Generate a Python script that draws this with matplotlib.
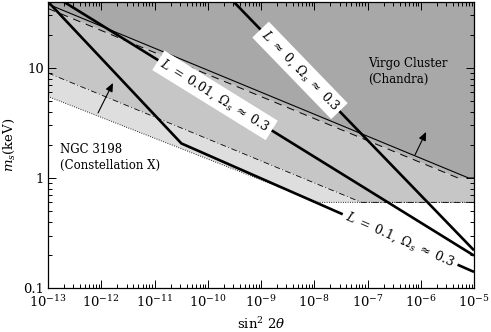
import numpy as np
import matplotlib
matplotlib.use("Agg")
import matplotlib.pyplot as plt
from matplotlib.ticker import LogLocator, NullFormatter, FixedLocator, FixedFormatter

plt.rcParams['font.family'] = ['DejaVu Serif']
plt.rcParams['mathtext.fontset'] = 'dejavuserif'

# ---------------- data ----------------
x_limits = [1e-13, 1e-5]
m_limits = [0.1, 40.0]

# Virgo cluster (Chandra) exclusion boundary (thin solid) and its lower edge (dashed)
virgo_x = [1e-13, 7.9e-6, 1e-5]
virgo_m = [38.0, 1.0, 1.0]
virgo_lo_x = [1e-13, 5.0e-6, 1e-5]
virgo_lo_m = [34.7, 1.0, 1.0]

# NGC 3198 (Constellation X) sensitivity (dash-dot) and lower edge (dotted)
conx_x = [1e-13, 7.7e-8, 1e-5]
conx_m = [9.0, 0.6, 0.6]
conx_lo_x = [1e-13, 1.2e-8, 1e-5]
conx_lo_m = [5.5, 0.6, 0.6]

# production curves
L0_x = [1e-10, 1e-5]
L0_m = [70.0, 0.22]
L001_x = [1e-13, 1e-5]
L001_m = [49.0, 0.197]
L01_x = [1e-13, 3.2e-11, 1e-5]
L01_m = [40.0, 2.06, 0.14]

curve_labels = [r'$L\;\approx\;\mathit{0},\;\Omega_s\;\approx\;\mathit{0.3}$',
                r'$L\;=\;\mathit{0.01},\;\Omega_s\;\approx\;\mathit{0.3}$',
                r'$L\;=\;\mathit{0.1},\;\Omega_s\;\approx\;\mathit{0.3}$']
curve_label_x = [5.4e-9, 1.37e-10, 4.1e-7]

x_ticks = [1e-13, 1e-12, 1e-11, 1e-10, 1e-9, 1e-8, 1e-7, 1e-6, 1e-5]
y_ticks = [0.1, 1, 10]
y_ticklabels = ['0.1', '1', '10']

virgo_text = 'Virgo Cluster\n(Chandra)'
virgo_text_pos = [1.02e-7, 9.2]
conx_text = 'NGC 3198\n(Constellation X)'
conx_text_pos = [1.68e-13, 1.55]

arrow1_tail = [8.7e-13, 3.9]
arrow1_head = [1.66e-12, 7.3]
arrow2_tail = [7.8e-7, 1.62]
arrow2_head = [1.26e-6, 2.62]

# ---------------- figure ----------------
fig = plt.figure(figsize=(4.91, 3.32), dpi=100)
ax = fig.add_axes([48/491, (332-288)/332, (474-48)/491, (288-1.7)/332])
ax.set_xscale('log')
ax.set_yscale('log')
ax.set_xlim(x_limits)
ax.set_ylim(m_limits)

dark, band, mid, light = '#a8a8a8', '#b4b4b4', '#c6c6c6', '#dedede'
top_x = [x_limits[0], x_limits[1]]
top_m = [1e3, 1e3]

def poly(ux, um, lx, lm, color):
    ax.fill(list(ux) + list(lx)[::-1], list(um) + list(lm)[::-1],
            color=color, lw=0, zorder=1)

poly(top_x, top_m, virgo_x, virgo_m, dark)
poly(virgo_x, virgo_m, virgo_lo_x, virgo_lo_m, band)
poly(virgo_lo_x, virgo_lo_m, conx_x, conx_m, mid)
poly(conx_x, conx_m, conx_lo_x, conx_lo_m, light)

ax.plot(virgo_x, virgo_m, color='k', lw=0.8, zorder=3)
ax.plot(virgo_lo_x[:2], virgo_lo_m[:2], color='k', lw=0.7, dashes=(8, 6), zorder=3)
ax.plot(conx_x, conx_m, color='k', lw=0.6, dashes=(7, 3, 1, 3), zorder=3)
ax.plot(conx_lo_x, conx_lo_m, color='k', lw=0.7, dashes=(0.8, 1.6), zorder=3)

for xs, ms in [(L0_x, L0_m), (L001_x, L001_m), (L01_x, L01_m)]:
    ax.plot(xs, ms, color='k', lw=1.9, zorder=4, solid_capstyle='butt')

fig.canvas.draw()
for (xs, ms), lab, lx in zip([(L0_x, L0_m), (L001_x, L001_m), (L01_x, L01_m)],
                             curve_labels, curve_label_x):
    lgx = np.log10(xs)
    lgm = np.log10(ms)
    ly = 10 ** np.interp(np.log10(lx), lgx, lgm)
    ly2 = 10 ** np.interp(np.log10(lx) + 0.3, lgx, lgm)
    p1 = ax.transData.transform((lx, ly))
    p2 = ax.transData.transform((lx * 10 ** 0.3, ly2))
    ang = np.degrees(np.arctan2(p2[1] - p1[1], p2[0] - p1[0]))
    ax.text(lx, ly, lab, rotation=ang, rotation_mode='anchor', ha='center',
            va='center', fontsize=9, zorder=6,
            bbox=dict(boxstyle='square,pad=0.3', fc='white', ec='none'))

ax.text(virgo_text_pos[0], virgo_text_pos[1], virgo_text, ha='left', va='center',
        fontsize=8.5, linespacing=1.3, zorder=6)
ax.text(conx_text_pos[0], conx_text_pos[1], conx_text, ha='left', va='center',
        fontsize=8.5, linespacing=1.3, zorder=6)

for tail, head in [(arrow1_tail, arrow1_head), (arrow2_tail, arrow2_head)]:
    ax.annotate('', xy=head, xytext=tail, zorder=6,
                arrowprops=dict(arrowstyle='-|>,head_length=0.5,head_width=0.22',
                                lw=0.8, color='k', shrinkA=0, shrinkB=0))

ax.xaxis.set_major_locator(FixedLocator(x_ticks))
ax.xaxis.set_minor_locator(LogLocator(base=10, subs=np.arange(2, 10), numticks=20))
ax.xaxis.set_minor_formatter(NullFormatter())
ax.yaxis.set_major_locator(FixedLocator(y_ticks))
ax.yaxis.set_major_formatter(FixedFormatter(y_ticklabels))
ax.yaxis.set_minor_locator(LogLocator(base=10, subs=np.arange(2, 10), numticks=20))
ax.yaxis.set_minor_formatter(NullFormatter())
ax.tick_params(which='both', direction='in', top=True, right=True, labelsize=9.5, width=0.7)
ax.tick_params(which='major', length=6, pad=3)
ax.tick_params(axis='x', which='major', pad=4.5)
ax.tick_params(which='minor', length=3)
for s in ax.spines.values():
    s.set_linewidth(0.9)
    s.set_zorder(7)

ax.set_xlabel(r'$\sin^2\,2\theta$', fontsize=9.5, labelpad=4)
ax.set_ylabel(r'$m_s$(keV)', fontsize=9.5, labelpad=4)

fig.savefig('out.png', dpi=100)
